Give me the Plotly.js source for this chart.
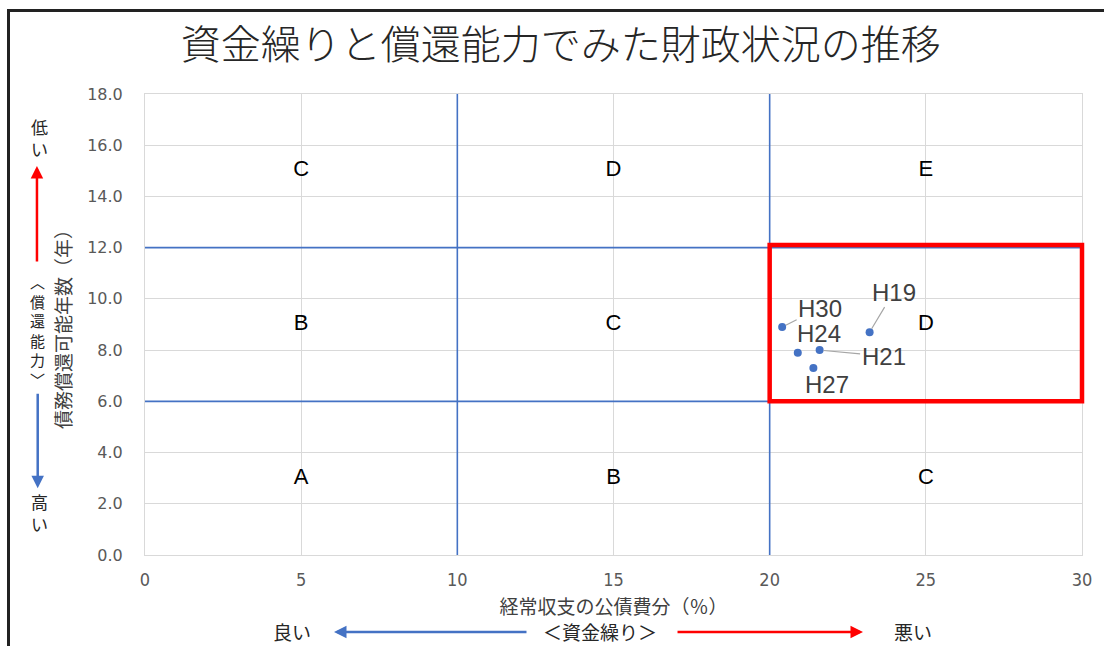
<!DOCTYPE html>
<html>
<head>
<meta charset="utf-8">
<script src="https://cdn.plot.ly/plotly-3.0.1.min.js"></script>
<style>
  html, body { margin: 0; padding: 0; background: #fff; }
  #chart { position: absolute; left: 0; top: 0; width: 1104px; height: 646px; }
  #frame { position: absolute; left: 7px; top: 9px; width: 1200px; height: 700px;
           border-left: 3px solid #222; border-top: 3px solid #222; pointer-events: none; }
</style>
</head>
<body>
<div id="chart"></div>
<div id="frame"></div>
<script>
// 年度ごとの指標
const years = ['H19', 'H21', 'H24', 'H27', 'H30'];
const debtServiceRatio = [23.2, 21.6, 20.9, 21.4, 20.4];   // 経常収支の公債費分(%)
const repaymentYears = [8.7, 8.0, 7.9, 7.3, 8.9];          // 債務償還可能年数(年)

// 区分ラベル
const zoneLabels = ['A', 'B', 'C', 'B', 'C', 'D', 'C', 'D', 'E'];
const zoneX = [5, 5, 5, 15, 15, 15, 25, 25, 25];
const zoneY = [3, 9, 15, 3, 9, 15, 3, 9, 15];

// 区分の境界線と注目範囲
const splitX = [10, 20];
const splitY = [6, 12];
const focusX = [20, 30];
const focusY = [6, 12.1];

const xRange = [0, 30];
const yRange = [0, 18];

const CJK = '"Noto Sans CJK JP", "Noto Sans", sans-serif';
const LATIN = '"Liberation Sans", Arial, sans-serif';

// 年度ラベルの配置(ピクセル単位のずらし)
const labelPlacement = {
  H19: { ax: 24, ay: -40, leader: true },
  H21: { ax: 64, ay: 6, leader: true },
  H30: { ax: 38, ay: -19, leader: true },
  H24: { dx: 21, dy: 19 },
  H27: { dx: 14, dy: -16 }
};

const toPaperX = v => (v - xRange[0]) / (xRange[1] - xRange[0]);
const toPaperY = v => (v - yRange[0]) / (yRange[1] - yRange[0]);

const shapes = [];
splitX.forEach(v => shapes.push({
  type: 'line', xref: 'x', yref: 'y', x0: v, x1: v, y0: yRange[0], y1: yRange[1],
  line: { color: '#4472c4', width: 1.6 }, layer: 'between'
}));
splitY.forEach(v => shapes.push({
  type: 'line', xref: 'x', yref: 'y', x0: xRange[0], x1: xRange[1], y0: v, y1: v,
  line: { color: '#4472c4', width: 1.6 }, layer: 'between'
}));
shapes.push({
  type: 'rect', xref: 'paper', yref: 'paper',
  x0: toPaperX(focusX[0]), x1: toPaperX(focusX[1]),
  y0: toPaperY(focusY[0]), y1: toPaperY(focusY[1]),
  line: { color: '#ff0000', width: 4.5 }, fillcolor: 'rgba(0,0,0,0)', layer: 'above'
});

const annotations = [];
years.forEach((yr, i) => {
  const p = labelPlacement[yr];
  const base = {
    x: debtServiceRatio[i], y: repaymentYears[i], xref: 'x', yref: 'y',
    text: yr, font: { family: LATIN, size: 24, color: '#404040' }
  };
  if (p.leader) {
    annotations.push(Object.assign(base, {
      showarrow: true, ax: p.ax, ay: p.ay, arrowhead: 0, arrowwidth: 1.2,
      arrowcolor: '#a6a6a6', standoff: 4
    }));
  } else {
    annotations.push(Object.assign(base, {
      showarrow: false, xanchor: 'center', yanchor: 'middle', xshift: p.dx, yshift: p.dy
    }));
  }
});

// 余白に置く説明文(中央揃え)
const note = (x, y, text, font) => ({
  xref: 'paper', yref: 'paper', x: x, y: y, text: text, showarrow: false,
  xanchor: 'center', yanchor: 'middle', font: font
});
const arrow = (x, y, ax, ay, color) => ({
  xref: 'paper', yref: 'paper', x: x, y: y, text: '', showarrow: true,
  ax: ax, ay: ay, arrowhead: 2, arrowsize: 1, arrowwidth: 2.5, arrowcolor: color
});

// 縦軸側の説明(償還能力)
const sideText = { family: CJK, size: 17, color: '#262626' };
annotations.push(
  note(-0.1121, 0.9056, '低<br>い', sideText),
  note(-0.1121, 0.0927, '高<br>い', sideText),
  note(-0.1143, 0.488, '︿<br>償<br>還<br>能<br>力<br>﹀', { family: CJK, size: 15, color: '#262626' }),
  arrow(-0.1153, 0.8437, 0, 97, '#ff0000'),
  arrow(-0.1145, 0.1448, 0, -96, '#4472c4')
);

// 横軸側の説明(資金繰り)
const bottomText = { family: CJK, size: 19, color: '#262626' };
const rowY = -0.167;
annotations.push(
  note(0.1569, rowY, '良い', bottomText),
  note(0.8196, rowY, '悪い', bottomText),
  note(0.4856, rowY, '＜資金繰り＞', bottomText),
  arrow(0.2017, rowY, 194, 0, '#4472c4'),
  arrow(0.7663, rowY, -187, 0, '#ff0000')
);

const traces = [
  {
    type: 'scatter', mode: 'text', x: zoneX, y: zoneY, text: zoneLabels,
    textposition: 'middle center', textfont: { family: LATIN, size: 22, color: '#000' },
    hoverinfo: 'skip', cliponaxis: false
  },
  {
    type: 'scatter', mode: 'markers', x: debtServiceRatio, y: repaymentYears, text: years,
    marker: { size: 8, color: '#4472c4' }, hovertemplate: '%{text}: (%{x}, %{y})<extra></extra>'
  }
];

const layout = {
  width: 1104, height: 646,
  margin: { l: 145, r: 22, t: 94, b: 91, pad: 0 },
  paper_bgcolor: '#fff', plot_bgcolor: '#fff',
  showlegend: false,
  title: {
    text: '資金繰りと償還能力でみた財政状況の推移',
    font: { family: CJK, size: 40, color: '#262626', weight: 300 },
    xref: 'container', x: 0.508, xanchor: 'center',
    yref: 'container', y: 0.93, yanchor: 'middle'
  },
  xaxis: {
    range: xRange, tick0: 0, dtick: 5, showgrid: true, gridcolor: '#d9d9d9', gridwidth: 1,
    zeroline: false, showline: true, linecolor: '#d9d9d9', linewidth: 1, mirror: true, ticks: '',
    tickfont: { family: '"DejaVu Sans Condensed", "DejaVu Sans", sans-serif', size: 18, color: '#595959' },
    ticklabelstandoff: 8,
    title: { text: '経常収支の公債費分（％）', font: { family: CJK, size: 19, color: '#404040' }, standoff: 12 },
    fixedrange: true
  },
  yaxis: {
    range: yRange, tick0: 0, dtick: 2, tickformat: '.1f', showgrid: true, gridcolor: '#d9d9d9', gridwidth: 1,
    zeroline: false, showline: true, linecolor: '#d9d9d9', linewidth: 1, mirror: true, ticks: '',
    tickfont: { family: '"DejaVu Sans", sans-serif', size: 16, color: '#595959' },
    ticklabelstandoff: 18,
    title: { text: '債務償還可能年数（年）', font: { family: CJK, size: 19, color: '#404040' }, standoff: 10 },
    fixedrange: true
  },
  shapes: shapes,
  annotations: annotations
};

Plotly.newPlot('chart', traces, layout, { displayModeBar: false });
</script>
</body>
</html>
